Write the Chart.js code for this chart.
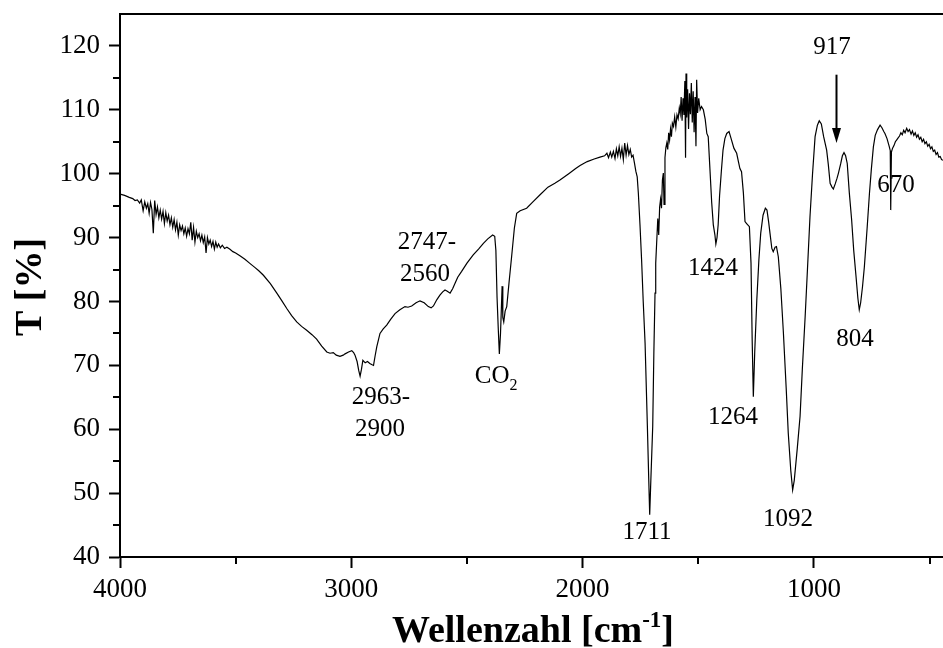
<!DOCTYPE html>
<html>
<head>
<meta charset="utf-8">
<script src="https://cdn.jsdelivr.net/npm/chart.js@4.4.1/dist/chart.umd.min.js"></script>
<style>
body { margin: 0; background: #fff; }
#wrap { width: 943px; height: 648px; }
</style>
</head>
<body>
<div id="wrap"><canvas id="myChart"></canvas></div>
<script>
// IR spectrum (wavenumber in cm-1, transmission in %)
const wavenumbers = [
  4000, 3980, 3960, 3945, 3935, 3925, 3915, 3908, 3900, 3893, 3886, 3880, 3874, 3868, 3862, 3856,
  3850, 3844, 3838, 3832, 3826, 3820, 3814, 3808, 3802, 3796, 3790, 3784, 3778, 3772, 3766, 3760,
  3754, 3748, 3742, 3736, 3730, 3724, 3718, 3712, 3706, 3700, 3694, 3688, 3682, 3676, 3670, 3664,
  3658, 3652, 3646, 3640, 3634, 3628, 3622, 3616, 3610, 3604, 3598, 3592, 3586, 3580, 3574, 3566,
  3558, 3548, 3538, 3526, 3512, 3500, 3480, 3460, 3440, 3416, 3400, 3380, 3350, 3322, 3300, 3279,
  3258, 3236, 3215, 3193, 3170, 3150, 3128, 3106, 3092, 3078, 3065, 3049, 3035, 3027, 3012, 2998,
  2990, 2984, 2975, 2968, 2962, 2956, 2950, 2940, 2930, 2920, 2910, 2904, 2897, 2890, 2876, 2862,
  2847, 2830, 2811, 2790, 2768, 2755, 2739, 2720, 2703, 2685, 2667, 2655, 2645, 2630, 2617, 2605,
  2595, 2585, 2573, 2562, 2552, 2540, 2523, 2500, 2473, 2450, 2429, 2410, 2389, 2380, 2375, 2370,
  2365, 2360, 2355, 2352, 2348, 2345, 2341, 2335, 2328, 2318, 2307, 2295, 2285, 2270, 2242, 2215,
  2184, 2150, 2120, 2098, 2060, 2030, 2011, 1980, 1950, 1925, 1905, 1895, 1888, 1880, 1874, 1867,
  1860, 1854, 1848, 1842, 1836, 1830, 1824, 1818, 1812, 1806, 1800, 1794, 1788, 1782, 1776, 1770,
  1764, 1759, 1752, 1745, 1738, 1730, 1720, 1714, 1710, 1706, 1697, 1692, 1687, 1684, 1680, 1675,
  1671, 1667, 1663, 1659, 1655, 1651, 1648, 1644, 1640, 1636, 1632, 1628, 1624, 1620, 1616, 1612,
  1607, 1602, 1597, 1592, 1587, 1582, 1578, 1574, 1570, 1566, 1562, 1558, 1555, 1553, 1550, 1546,
  1542, 1538, 1534, 1530, 1526, 1522, 1518, 1514, 1510, 1507, 1503, 1498, 1492, 1486, 1478, 1470,
  1463, 1457, 1450, 1442, 1435, 1428, 1424, 1419, 1414, 1408, 1400, 1393, 1385, 1377, 1367, 1358,
  1346, 1334, 1326, 1320, 1313, 1305, 1298, 1291, 1279, 1272, 1267, 1262, 1256, 1247, 1238, 1230,
  1220, 1210, 1203, 1196, 1190, 1182, 1176, 1168, 1162, 1154, 1143, 1132, 1120, 1111, 1100, 1092,
  1085, 1072, 1060, 1050, 1038, 1028, 1017, 1006, 995, 985, 977, 968, 958, 945, 938, 930,
  922, 916, 908, 900, 894, 884, 877, 870, 863, 856, 847, 837, 828, 818, 810, 804,
  798, 790, 782, 770, 760, 752, 743, 735, 725, 714, 706, 698, 693, 684, 674, 670,
  668, 665, 660, 654, 648, 642, 636, 630, 624, 618, 612, 606, 599, 593, 587, 580,
  574, 568, 562, 556, 550, 544, 538, 532, 526, 520, 514, 508, 502, 496, 490, 484,
  478, 472, 466, 460, 454, 448, 442
];
const transmission = [
  96.8, 96.6, 96.3, 96.1, 95.8, 95.9, 95.4, 95.9, 94.2, 95.6, 94.6, 95.3, 93.8, 95.5, 94.4, 90.7,
  95.8, 93.6, 94.8, 93.1, 94.3, 92.9, 94.1, 92.2, 93.9, 92.6, 93.5, 92.0, 93.1, 91.6, 92.8, 91.2,
  92.4, 90.4, 92.0, 91.1, 91.8, 90.6, 91.5, 90.2, 91.4, 90.6, 92.4, 89.6, 91.6, 89.3, 91.0, 90.0,
  90.6, 89.5, 90.4, 89.2, 90.1, 87.6, 90.0, 89.0, 89.6, 88.6, 89.4, 88.2, 89.3, 88.5, 89.0, 88.4,
  88.8, 88.3, 88.5, 88.2, 87.8, 87.6, 87.1, 86.6, 86.0, 85.3, 84.8, 84.1, 82.8, 81.3, 80.1, 78.9,
  77.8, 76.8, 76.1, 75.5, 74.8, 74.1, 73.0, 72.1, 71.9, 72.0, 71.6, 71.4, 71.6, 71.8, 72.1, 72.3,
  72.0, 71.6, 70.6, 69.2, 68.3, 69.4, 70.8, 70.4, 70.6, 70.3, 70.1, 70.0, 71.5, 72.9, 75.0, 75.7,
  76.3, 77.2, 78.1, 78.7, 79.2, 79.1, 79.3, 79.8, 80.1, 79.8, 79.2, 79.0, 79.3, 80.3, 81.0, 81.5,
  81.8, 81.6, 81.3, 82.0, 82.8, 83.8, 84.7, 86.0, 87.3, 88.2, 89.1, 89.8, 90.4, 90.2, 88.0, 80.7,
  76.0, 71.8, 75.0, 78.1, 82.4, 77.5, 76.8, 78.5, 79.2, 83.0, 87.0, 91.5, 93.8, 94.2, 94.6, 95.6,
  96.7, 97.9, 98.5, 99.0, 100.0, 100.8, 101.3, 101.9, 102.3, 102.6, 102.8, 103.2, 102.5, 103.4, 102.6, 103.5,
  102.4, 103.9, 102.8, 104.2, 102.7, 104.0, 102.2, 104.8, 102.9, 104.4, 103.0, 103.8, 102.6, 102.9, 101.7, 100.4,
  99.5, 96.9, 92.0, 86.5, 80.0, 73.5, 60.4, 52.0, 46.6, 51.0, 60.4, 72.0, 81.3, 86.0, 89.1, 93.0,
  90.4, 94.8, 96.0, 94.6, 99.0, 100.1, 95.2, 102.5, 104.1, 104.8, 103.8, 106.4, 105.3, 107.0, 105.8, 107.9,
  107.4, 108.9, 107.3, 109.2, 108.6, 110.3, 109.4, 112.0, 108.3, 111.8, 109.2, 114.5, 102.5, 115.7, 108.8, 113.2,
  107.0, 112.6, 109.3, 114.2, 108.0, 112.9, 106.5, 112.0, 104.3, 114.7, 109.5, 111.8, 110.0, 110.5, 110.0, 108.5,
  106.3, 105.8, 101.0, 95.5, 92.0, 90.4, 89.0, 90.0, 92.0, 96.5, 100.5, 103.7, 105.5, 106.3, 106.6, 105.5,
  104.0, 103.2, 101.8, 100.8, 100.3, 97.0, 92.5, 92.2, 91.7, 86.0, 74.0, 65.1, 72.0, 80.2, 86.5, 90.7,
  93.5, 94.6, 94.3, 92.5, 90.7, 88.3, 87.8, 88.5, 88.6, 87.0, 82.0, 75.1, 66.5, 59.4, 53.5, 50.5,
  52.0, 57.0, 62.0, 69.5, 77.6, 85.0, 93.3, 100.0, 105.8, 107.6, 108.3, 107.8, 105.8, 103.7, 101.5, 98.5,
  97.9, 97.6, 98.4, 99.3, 100.1, 101.6, 102.8, 103.3, 102.8, 101.6, 97.0, 92.8, 88.0, 83.9, 80.5, 78.7,
  79.8, 82.3, 85.4, 91.5, 96.9, 100.6, 104.2, 106.0, 106.9, 107.6, 107.2, 106.6, 106.3, 105.5, 104.2, 103.6,
  94.3, 103.4, 104.0, 104.4, 105.0, 105.3, 105.6, 105.9, 106.4, 106.1, 106.8, 106.4, 107.1, 106.6, 106.9, 106.2,
  106.7, 106.0, 106.4, 105.7, 106.1, 105.4, 105.7, 105.0, 105.4, 104.7, 105.0, 104.3, 104.6, 103.9, 104.2, 103.5,
  103.7, 103.0, 103.3, 102.6, 102.7, 102.2, 102.1
];

const xMajorTicks = [4000, 3000, 2000, 1000];
const xMinorTicks = [3500, 2500, 1500, 500];
const yMajorTicks = [40, 50, 60, 70, 80, 90, 100, 110, 120];
const yMinorTicks = [45, 55, 65, 75, 85, 95, 105, 115];

// peak labels: text, wavenumber, transmission of the label centre
const peakText = ['2963-', '2900', '2747-', '2560', '1711', '1424', '1264', '1092', '804', '917', '670'];
const peakWn   = [2872, 2876, 2673, 2681, 1722, 1436, 1350, 1112, 822, 922, 645];
const peakT    = [65.0, 59.9, 89.3, 84.3, 43.9, 85.1, 61.8, 45.9, 74.1, 119.8, 98.2];

const serif = '"Liberation Serif", "Times New Roman", serif';

const spectrum = wavenumbers.map((w, i) => ({ x: w, y: transmission[i] }));

const extras = {
  id: 'extras',
  afterDraw(chart) {
    const ctx = chart.ctx;
    const area = chart.chartArea;
    const xs = chart.scales.x, ys = chart.scales.y;
    ctx.save();
    ctx.strokeStyle = '#000';
    ctx.fillStyle = '#000';

    // top frame line
    ctx.lineWidth = 2;
    ctx.beginPath();
    ctx.moveTo(area.left - 1, area.top);
    ctx.lineTo(area.right, area.top);
    ctx.stroke();

    // minor ticks
    xMinorTicks.forEach(v => {
      const px = Math.round(xs.getPixelForValue(v));
      ctx.beginPath();
      ctx.moveTo(px, area.bottom);
      ctx.lineTo(px, area.bottom + 7);
      ctx.stroke();
    });
    yMinorTicks.forEach(v => {
      const py = Math.round(ys.getPixelForValue(v));
      ctx.beginPath();
      ctx.moveTo(area.left, py);
      ctx.lineTo(area.left - 7, py);
      ctx.stroke();
    });

    // peak labels
    ctx.font = '25px ' + serif;
    ctx.textAlign = 'center';
    ctx.textBaseline = 'middle';
    peakText.forEach((t, i) => {
      ctx.fillText(t, xs.getPixelForValue(peakWn[i]), ys.getPixelForValue(peakT[i]));
    });

    // CO2 label with subscript
    const cx = xs.getPixelForValue(2374), cy = ys.getPixelForValue(68.2);
    ctx.textAlign = 'left';
    const coW = ctx.measureText('CO').width;
    ctx.font = '16px ' + serif;
    const subW = ctx.measureText('2').width;
    const startX = cx - (coW + subW) / 2;
    ctx.font = '25px ' + serif;
    ctx.fillText('CO', startX, cy);
    ctx.font = '16px ' + serif;
    ctx.fillText('2', startX + coW, cy + 9);

    // arrow to the 917 band
    const ax = Math.round(xs.getPixelForValue(906)) + 0.5;
    const aTop = ys.getPixelForValue(115.5), aTip = ys.getPixelForValue(104.8);
    ctx.lineWidth = 2;
    ctx.beginPath();
    ctx.moveTo(ax, aTop);
    ctx.lineTo(ax, aTip - 10);
    ctx.stroke();
    ctx.beginPath();
    ctx.moveTo(ax - 4.5, aTip - 15);
    ctx.lineTo(ax + 4.5, aTip - 15);
    ctx.lineTo(ax, aTip);
    ctx.closePath();
    ctx.fill();

    // y axis title
    ctx.save();
    ctx.translate(31, 287);
    ctx.rotate(-Math.PI / 2);
    ctx.font = 'bold 38px ' + serif;
    ctx.textAlign = 'center';
    ctx.textBaseline = 'middle';
    ctx.fillText('T [%]', 0, 0);
    ctx.restore();

    // x axis title with superscript
    ctx.textAlign = 'left';
    ctx.textBaseline = 'alphabetic';
    const big = 'bold 38px ' + serif, small = 'bold 23px ' + serif;
    ctx.font = big;
    const w1 = ctx.measureText('Wellenzahl [cm').width;
    const w3 = ctx.measureText(']').width;
    ctx.font = small;
    const w2 = ctx.measureText('-1').width;
    const x0 = 533 - (w1 + w2 + w3) / 2, base = 642;
    ctx.font = big;
    ctx.fillText('Wellenzahl [cm', x0, base);
    ctx.font = small;
    ctx.fillText('-1', x0 + w1, base - 15);
    ctx.font = big;
    ctx.fillText(']', x0 + w1 + w2, base);

    ctx.restore();
  }
};

const config = {
  type: 'line',
  data: {
    datasets: [{
      data: spectrum,
      borderColor: '#000',
      borderWidth: 1.2,
      pointRadius: 0,
      tension: 0,
      fill: false
    }]
  },
  options: {
    responsive: true,
    maintainAspectRatio: false,
    animation: false,
    layout: { padding: { top: 14, right: 0, left: 0, bottom: 0 } },
    plugins: {
      legend: { display: false },
      title: { display: false },
      tooltip: { enabled: false }
    },
    scales: {
      x: {
        type: 'linear',
        reverse: true,
        min: 442,
        max: 4000,
        border: { display: true, color: '#000', width: 2 },
        grid: {
          drawOnChartArea: false,
          tickLength: 11,
          tickWidth: 2,
          tickColor: '#000'
        },
        ticks: {
          autoSkip: false,
          maxRotation: 0,
          padding: 6,
          color: '#000',
          font: { family: serif, size: 27 },
          callback: v => String(v)
        },
        afterBuildTicks: s => { s.ticks = xMajorTicks.map(v => ({ value: v })); },
        afterFit: s => { s.height = 91; s.paddingLeft = 0; s.paddingRight = 0; }
      },
      y: {
        min: 40,
        max: 125,
        border: { display: true, color: '#000', width: 2 },
        grid: {
          drawOnChartArea: false,
          tickLength: 11,
          tickWidth: 2,
          tickColor: '#000'
        },
        ticks: {
          autoSkip: false,
          padding: 9,
          color: '#000',
          font: { family: serif, size: 27 },
          callback: v => String(v)
        },
        afterBuildTicks: s => { s.ticks = yMajorTicks.map(v => ({ value: v })); },
        afterFit: s => { s.width = 120; s.paddingTop = 0; s.paddingBottom = 0; }
      }
    }
  },
  plugins: [extras]
};

const myChart = new Chart(document.getElementById('myChart'), config);
</script>
</body>
</html>
